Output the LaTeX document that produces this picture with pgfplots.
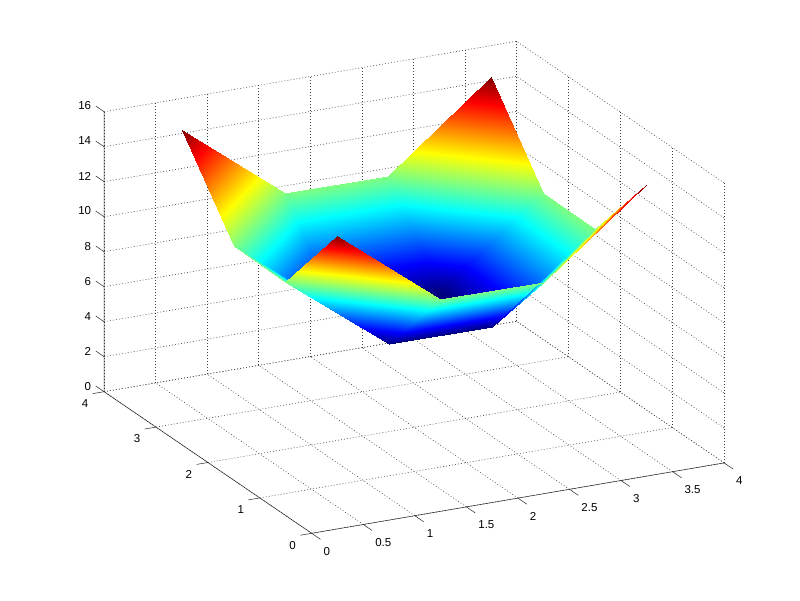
\documentclass[border=0pt]{standalone}
\usepackage{pgfplots}
\pgfplotsset{compat=1.18}
\usepackage{fontspec}
\setmainfont{Liberation Sans}
\begin{document}
\begin{tikzpicture}[x=1pt,y=1pt]
\path[use as bounding box,fill=white] (0,0) rectangle (800,600);
\begin{axis}[
  at={(311.7pt,66.7pt)},anchor=origin,
  x={(103.1pt,17.6pt)},y={(-51.9pt,35.4pt)},z={(0pt,17.5pt)},
  xmin=0,xmax=4,ymin=0,ymax=4,zmin=0,zmax=16,
  xtick={0,0.5,...,4},ytick={0,1,2,3,4},ztick={0,2,...,16},
  xticklabels={0,0.5,1,1.5,2,2.5,3,3.5,4},
  scaled ticks=false,
  grid=major,
  major grid style={black!75,dash pattern=on 0.9pt off 2.1pt,line width=0.55pt},
  axis line style={draw=none},
  tick style={draw=none},
  tick label style={font=\fontsize{11.5}{13}\selectfont},
  x tick label style={anchor=west,xshift=8.5pt,yshift=-18pt},
  y tick label style={xshift=-12.5pt,yshift=-4pt},
  z tick label style={xshift=-9.5pt,yshift=3.5pt},
  /pgf/number format/assume math mode=true,
  colormap/jet,point meta min=6.25,point meta max=15.45,
  clip=false,
]
\addplot3[surf,shader=interp,z buffer=sort,mesh/rows=4,mesh/cols=4] table[row sep=\\] {
x y z\\
0.5 0.5 15.45\\
1.5 0.5 10.85\\
2.5 0.5 10.85\\
3.5 0.5 15.45\\
0.5 1.5 10.85\\
1.5 1.5 6.25\\
2.5 1.5 6.25\\
3.5 1.5 10.85\\
0.5 2.5 10.85\\
1.5 2.5 6.25\\
2.5 2.5 6.25\\
3.5 2.5 10.85\\
0.5 3.5 15.45\\
1.5 3.5 10.85\\
2.5 3.5 10.85\\
3.5 3.5 15.45\\
};
\draw[black!85,line width=0.5pt] (axis cs:4,0,0) -- (axis cs:0,0,0) -- (axis cs:0,4,0) -- (axis cs:0,4,16);
\pgfplotsinvokeforeach{0,0.5,1,1.5,2,2.5,3,3.5,4}{
  \draw[black!85,line width=0.5pt] (axis cs:#1,0,0) -- (axis cs:#1,-0.17,0);}
\pgfplotsinvokeforeach{0,1,2,3,4}{
  \draw[black!85,line width=0.5pt] (axis cs:0,#1,0) -- (axis cs:-0.11,#1,0);}
\pgfplotsinvokeforeach{0,2,4,6,8,10,12,14,16}{
  \draw[black!85,line width=0.5pt] (axis cs:0,4,#1) -- (axis cs:0,4.16,#1);}
\end{axis}
\end{tikzpicture}
\end{document}
